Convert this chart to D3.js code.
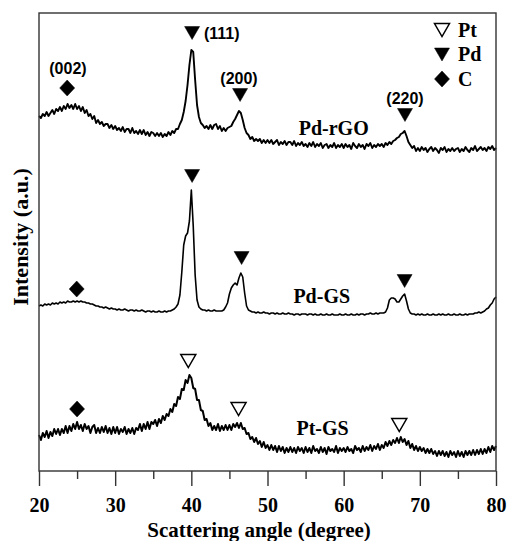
<!DOCTYPE html>
<html><head><meta charset="utf-8">
<script src="https://cdn.jsdelivr.net/npm/d3@7"></script>
<style>body{margin:0;background:#fff}svg{display:block}</style>
</head><body><svg id="c" width="507" height="541"></svg>
<script>
// 2-theta sampling grid (degrees)
const angles = d3.range(20, 80.001, 0.25);
// intensities (a.u., stacked with offsets as in the figure)
const pdRGO = [
355,353,357,355,359,355,358,361,357,362,360,364,360,365,362,367,363,366,362,367,
362,365,360,364,358,361,355,357,352,355,348,351,347,349,345,347,347,343,346,342,
345,341,343,340,344,339,342,342,338,343,338,340,337,341,337,341,336,339,335,339,
338,335,338,335,338,334,337,335,339,336,340,338,342,342,347,351,359,370,386,406,
421,419,391,366,354,348,346,343,345,342,346,342,346,347,342,345,340,343,340,343,
344,345,349,352,356,360,358,351,343,338,336,332,334,330,332,330,332,328,331,328,
331,328,331,327,329,331,326,329,327,330,326,329,329,326,330,325,328,326,329,325,
327,324,328,325,329,324,327,325,328,323,326,327,323,326,324,328,323,326,324,327,
323,327,324,326,322,328,325,323,327,324,326,322,327,325,328,323,326,324,327,325,
327,324,328,326,329,327,330,331,333,334,337,338,340,335,329,326,323,325,320,323,
320,324,321,323,319,322,324,320,323,321,318,323,321,324,319,322,320,323,320,322,
323,319,322,320,324,321,319,323,321,325,320,322,324,321,323,320,324,322,325,321,
323];
const pdGS = [
165,166,165,167,166,167,166,168,167,168,167,169,168,169,168,170,169,169,170,169,
170,169,170,169,169,168,168,167,167,166,165,165,164,164,163,164,163,162,163,162,
162,161,162,161,161,162,161,160,161,161,160,161,160,160,161,160,159,160,160,159,
160,159,159,160,159,159,160,159,160,160,161,162,164,167,176,199,226,235,238,250,
281,245,196,171,164,162,161,161,160,161,160,160,161,160,160,160,160,161,164,168,
177,183,186,188,186,193,198,194,178,165,161,160,159,159,158,159,158,158,159,158,
158,157,158,158,157,158,157,157,158,157,157,158,157,157,156,157,157,156,157,157,
157,156,157,157,156,157,156,156,157,156,156,157,156,156,157,156,156,156,157,156,
156,157,156,156,157,156,156,157,156,157,157,156,157,157,158,157,157,158,157,158,
158,158,159,163,171,173,173,172,169,169,172,175,177,170,162,158,157,157,156,157,
156,157,156,156,157,156,156,157,156,156,157,156,157,156,156,157,156,156,157,156,
156,157,156,156,157,156,157,157,157,158,158,159,158,159,160,162,163,166,168,172,
174];
const ptGS = [
36,31,38,34,40,33,39,35,42,37,42,36,42,38,45,38,45,40,47,42,
49,42,46,40,47,42,45,38,44,46,38,43,38,44,39,45,38,43,37,44,
38,44,37,42,39,44,37,42,38,43,37,43,41,47,40,47,42,49,42,49,
47,51,45,52,48,55,51,57,55,62,59,67,65,74,72,82,81,91,88,96,
93,83,82,71,71,61,60,51,52,45,48,41,45,41,47,40,45,41,46,41,
46,41,47,44,48,43,48,42,43,37,38,32,34,29,33,27,30,24,29,23,
26,21,26,21,25,19,25,20,24,18,23,19,24,19,23,18,24,20,23,18,
24,19,23,18,25,20,22,18,24,19,23,17,24,20,22,19,25,18,23,20,
23,19,24,20,22,18,25,21,23,19,25,20,24,21,26,20,25,22,27,21,
26,23,29,25,30,26,31,28,33,28,34,29,32,26,30,23,27,21,25,20,
24,20,23,18,22,18,22,17,20,15,20,16,20,15,19,14,20,16,19,14,
20,15,19,14,20,16,20,16,21,16,21,17,22,17,22,18,24,19,25,21,
25];
const seriesNames = ["Pd-rGO", "Pd-GS", "Pt-GS"];
const labelAngles = [54.1, 53.4, 53.8];
const labelLevels = [336, 168, 36];
const xTicks = [20, 30, 40, 50, 60, 70, 80];
const xMinorTicks = [25, 35, 45, 55, 65, 75];
// peak markers
const markerAngles = [23.7, 40.1, 46.4, 68.05, 24.95, 40.1, 46.6, 68.0, 25.0, 39.6, 46.2, 67.3];
const markerLevels = [383, 438, 376, 356, 182, 295, 213, 190, 62, 110, 62, 46];
const markerTypes = ["C","Pd","Pd","Pd","C","Pd","Pd","Pd","C","Pt","Pt","Pt"];
// Miller indices
const hklLabels = ["(002)", "(111)", "(200)", "(220)"];
const hklAngles = [23.8, 41.66, 46.26, 68.05];
const hklLevels = [403, 438, 393, 373];
const hklAnchors = ["middle", "start", "middle", "middle"];
const legendNames = ["Pt", "Pd", "C"];

const svg = d3.select("#c");
const L = 39, R = 496, T = 13, B = 471;
const x = d3.scaleLinear().domain([20, 80]).range([L, R]);
const y = d3.scaleLinear().domain([0, 458]).range([B, T]);
const serif = "'Liberation Serif','Times New Roman',Times,serif";
const sans = "'Liberation Sans',Arial,Helvetica,sans-serif";

// traces
const line = d3.line().x((d, i) => x(angles[i])).y(d => y(d));
const widths = [1.9, 1.6, 2.0];
[pdRGO, pdGS, ptGS].forEach((s, k) => {
  svg.append("path").datum(s).attr("d", line)
    .attr("fill", "none").attr("stroke", "#000").attr("stroke-width", widths[k])
    .attr("stroke-linejoin", "round");
});

// frame
svg.append("rect").attr("x", L).attr("y", T).attr("width", R - L).attr("height", B - T)
  .attr("fill", "none").attr("stroke", "#333").attr("stroke-width", 1.4);

// x axis
const gx = svg.append("g").attr("transform", `translate(0,${B})`)
  .call(d3.axisBottom(x).tickValues(xTicks).tickSize(15).tickPadding(12).tickFormat(d3.format("d")));
gx.select(".domain").remove();
gx.selectAll("line").attr("stroke", "#333").attr("stroke-width", 1.4);
gx.selectAll("text").attr("font-family", serif).attr("font-weight", "bold").attr("font-size", 20).attr("fill", "#000");
const gm = svg.append("g").attr("transform", `translate(0,${B})`)
  .call(d3.axisBottom(x).tickValues(xMinorTicks).tickSize(8).tickFormat(""));
gm.select(".domain").remove();
gm.selectAll("line").attr("stroke", "#333").attr("stroke-width", 1.4);

// axis titles
svg.append("text").attr("x", 259).attr("y", 537).attr("text-anchor", "middle")
  .attr("font-family", serif).attr("font-weight", "bold").attr("font-size", 21)
  .text("Scattering angle (degree)");
svg.append("text").attr("transform", "translate(28,237) rotate(-90)").attr("text-anchor", "middle")
  .attr("font-family", serif).attr("font-weight", "bold").attr("font-size", 22)
  .text("Intensity (a.u.)");

// markers
function markerPath(type, cx, cy) {
  if (type === "C") return `M${cx},${cy-8}L${cx+7.5},${cy}L${cx},${cy+8}L${cx-7.5},${cy}Z`;
  return `M${cx-7.5},${cy-6.5}L${cx+7.5},${cy-6.5}L${cx},${cy+6.5}Z`;
}
function drawMarker(type, cx, cy) {
  svg.append("path").attr("d", markerPath(type, cx, cy))
    .attr("fill", type === "Pt" ? "#fff" : "#000")
    .attr("stroke", "#000").attr("stroke-width", type === "Pt" ? 1.5 : 0.5)
    .attr("stroke-linejoin", "miter");
}
markerTypes.forEach((t, i) => drawMarker(t, x(markerAngles[i]), y(markerLevels[i])));

// hkl labels
hklLabels.forEach((t, i) => {
  svg.append("text").attr("x", x(hklAngles[i])).attr("y", y(hklLevels[i])).attr("dy", "0.36em")
    .attr("text-anchor", hklAnchors[i]).attr("font-family", sans).attr("font-weight", "bold")
    .attr("font-size", 16).text(t);
});

// series labels
seriesNames.forEach((n, i) => {
  svg.append("text").attr("x", x(labelAngles[i])).attr("y", y(labelLevels[i]))
    .attr("font-family", serif).attr("font-weight", "bold").attr("font-size", 20).text(n);
});

// legend
legendNames.forEach((n, i) => {
  const cy = 30 + i * 24.5;
  drawMarker(n, 442, cy);
  svg.append("text").attr("x", 458).attr("y", cy + 6.5)
    .attr("font-family", serif).attr("font-weight", "bold").attr("font-size", 20).text(n);
});
</script></body></html>
